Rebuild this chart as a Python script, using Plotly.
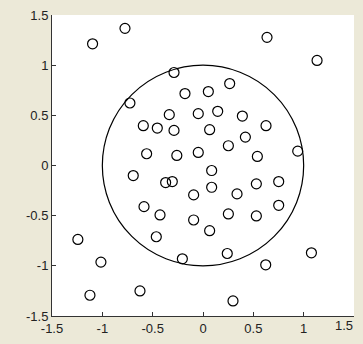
import plotly.graph_objects as go

# point positions
xs = [-1.097, -0.775, 0.636, 1.133, -0.726, -0.288, -0.179, 0.053, 0.265,
      -0.335, -0.047, 0.146, 0.391, -0.593, -0.454, -0.288, 0.066, 0.626,
      0.421, 0.252, -0.56, -0.26, -0.047, 0.941, 0.54, -0.693, 0.086,
      -0.371, -0.305, 0.086, -0.093, 0.338, 0.53, 0.752, -0.586, -0.427,
      0.752, 0.53, 0.252, -0.093, 0.066, -1.243, -0.464, -1.014, -0.205,
      0.241, 0.623, 1.077, -1.123, -0.626, 0.298]
ys = [1.213, 1.367, 1.277, 1.047, 0.623, 0.927, 0.717, 0.737, 0.817,
      0.507, 0.517, 0.54, 0.493, 0.397, 0.373, 0.35, 0.357, 0.397,
      0.283, 0.197, 0.117, 0.10, 0.13, 0.143, 0.09, -0.10, -0.05,
      -0.17, -0.16, -0.217, -0.293, -0.283, -0.183, -0.16, -0.41, -0.493,
      -0.397, -0.503, -0.483, -0.543, -0.65, -0.737, -0.71, -0.963, -0.93,
      -0.877, -0.99, -0.87, -1.293, -1.25, -1.35]

ticks = [-1.5, -1, -0.5, 0, 0.5, 1, 1.5]
tick_text = ["-1.5", "-1", "-0.5", "0", "0.5", "1", "1.5"]
radius = 1.0

font = dict(family="Liberation Sans", size=13, color="#222")

fig = go.Figure()
fig.add_trace(go.Scatter(x=xs, y=ys, mode="markers",
                         marker=dict(symbol="circle-open", size=10,
                                     color="black", line=dict(width=1.2))))
fig.add_shape(type="circle", xref="x", yref="y",
              x0=-radius, y0=-radius, x1=radius, y1=radius,
              line=dict(color="black", width=1.2))

axis = dict(range=[-1.5, 1.5], tickvals=ticks, ticks="inside", ticklen=4,
            tickcolor="#333", showgrid=False, zeroline=False, showline=True,
            linecolor="#333", linewidth=1, mirror=False, automargin=False,
            tickfont=font)

# last x label would run off the page, so place it by hand
xtext = tick_text[:-1] + [""]
fig.add_annotation(x=1, y=0, xref="paper", yref="paper", text=tick_text[-1],
                   showarrow=False, xanchor="right", yanchor="top",
                   xshift=0, yshift=-1, borderpad=0, font=font)

fig.update_layout(
    width=363, height=344,
    margin=dict(l=52, r=9, t=15, b=28),
    paper_bgcolor="#ece9d8", plot_bgcolor="white",
    showlegend=False,
    xaxis=dict(axis, ticktext=xtext),
    yaxis=dict(axis, ticktext=tick_text),
)
# drop the default 8px body margin so the figure fills the window
fig.write_html("out.html", config={"displayModeBar": False},
               post_script="document.body.style.margin='0';")
